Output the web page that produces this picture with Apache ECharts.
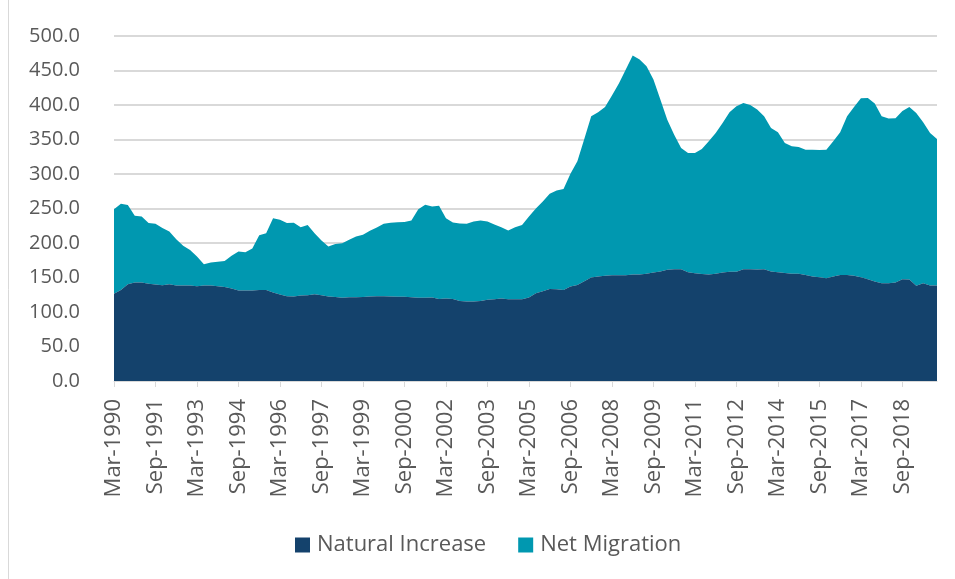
<!DOCTYPE html>
<html>
<head>
<meta charset="utf-8">
<script src="https://cdn.jsdelivr.net/npm/echarts@6/dist/echarts.min.js"></script>
<style>
html,body{margin:0;padding:0;background:#fff;}
#chart{width:955px;height:579px;}
</style>
</head>
<body>
<div id="chart"></div>
<script>
// Quarterly categories Mar-1990 .. Dec-2019
var months = ['Mar', 'Jun', 'Sep', 'Dec'];
var categories = [];
for (var y = 1990; y <= 2019; y++) {
  for (var q = 0; q < 4; q++) categories.push(months[q] + '-' + y);
}

var seriesNames = ['Natural Increase', 'Net Migration'];

var naturalIncrease = [
  126.3, 132.0, 140.3, 142.7, 142.7, 140.8, 139.8, 138.9, 140.3, 138.3,
  138.3, 138.3, 137.4, 138.3, 138.3, 137.4, 136.4, 134.0, 131.0, 131.0,
  131.0, 132.0, 132.0, 128.2, 125.3, 122.9, 122.4, 123.8, 124.3, 125.8,
  124.3, 122.4, 121.9, 120.5, 121.4, 121.4, 121.9, 122.4, 122.9, 122.9,
  122.4, 122.2, 122.0, 121.4, 120.5, 120.5, 121.0, 119.0, 119.5, 119.0,
  116.1, 115.1, 115.1, 116.1, 117.6, 118.6, 119.5, 118.6, 118.6, 118.6,
  121.0, 127.3, 130.2, 133.5, 133.0, 132.0, 136.9, 139.3, 144.7, 150.0,
  151.4, 152.4, 153.4, 153.4, 153.4, 154.3, 154.3, 155.3, 157.2, 158.6,
  161.1, 162.1, 162.1, 157.7, 156.3, 154.9, 154.3, 155.3, 157.2, 158.2,
  158.2, 162.1, 162.1, 161.6, 162.1, 158.6, 157.7, 156.7, 155.3, 155.3,
  153.8, 151.4, 150.5, 149.0, 151.4, 153.8, 153.8, 152.4, 150.5, 147.6,
  144.1, 141.8, 141.8, 142.7, 147.6, 147.1, 137.9, 141.8, 138.3, 138.3
];

var netMigration = [
  122.7, 125.0, 114.7, 96.8, 95.8, 88.2, 88.2, 82.7, 76.4, 67.3,
  57.7, 51.7, 43.0, 31.0, 33.4, 35.6, 37.6, 47.4, 56.7, 55.7,
  61.0, 79.4, 82.3, 107.8, 108.3, 106.1, 106.9, 99.2, 101.7, 88.5,
  79.3, 72.6, 76.5, 79.3, 83.2, 88.1, 90.1, 95.3, 99.6, 105.0,
  107.1, 107.8, 108.3, 111.3, 128.5, 134.9, 132.0, 135.0, 116.5, 110.8,
  112.2, 112.8, 116.1, 116.6, 113.6, 108.3, 103.5, 99.6, 104.4, 107.4,
  117.5, 122.7, 130.0, 137.9, 143.2, 146.2, 163.5, 179.0, 206.1, 233.6,
  238.0, 244.8, 260.2, 277.6, 298.0, 317.4, 311.6, 300.9, 279.8, 249.2,
  217.7, 194.9, 175.6, 172.8, 174.2, 181.4, 193.0, 204.2, 216.8, 231.2,
  240.0, 240.9, 238.0, 231.7, 221.5, 208.1, 202.7, 188.3, 184.8, 183.9,
  181.5, 183.9, 184.3, 186.3, 195.9, 206.6, 229.8, 244.8, 259.2, 262.7,
  257.9, 241.8, 238.5, 238.1, 243.8, 250.1, 250.6, 233.1, 221.2, 212.5
];

var chart = echarts.init(document.getElementById('chart'), null, {renderer: 'canvas'});
var fontFam = '"Open Sans", "Noto Sans", sans-serif';
chart.setOption({
  animation: false,
  backgroundColor: '#ffffff',
  color: ['#14426C', '#0098B0'],
  grid: {left: 114, right: 18, top: 36, bottom: 198, containLabel: false},
  legend: {
    data: seriesNames,
    bottom: 18,
    left: 290,
    itemWidth: 15,
    itemHeight: 15,
    itemGap: 32,
    icon: 'rect',
    textStyle: {color: '#595959', fontSize: 22, fontFamily: fontFam, padding: [0, 0, 0, 2]}
  },
  xAxis: {
    type: 'category',
    data: categories,
    boundaryGap: false,
    axisLine: {lineStyle: {color: '#d9d9d9', width: 1}},
    axisTick: {show: true, interval: 5, length: 6, lineStyle: {color: '#d9d9d9'}},
    axisLabel: {
      interval: 5,
      rotate: 90,
      color: '#595959',
      fontSize: 22,
      fontFamily: fontFam,
      margin: 18
    },
    splitLine: {show: false}
  },
  yAxis: {
    type: 'value',
    min: 0,
    max: 500,
    interval: 50,
    axisLine: {show: false},
    axisTick: {show: false},
    axisLabel: {
      color: '#595959',
      fontSize: 20,
      fontFamily: fontFam,
      margin: 34,
      formatter: function (v) { return v.toFixed(1); }
    },
    splitLine: {lineStyle: {color: '#d9d9d9', width: 2}}
  },
  graphic: [{
    type: 'line',
    shape: {x1: 8.5, y1: 0, x2: 8.5, y2: 579},
    style: {stroke: '#d9d9d9', lineWidth: 1}
  }],
  series: [
    {
      name: seriesNames[0],
      type: 'line',
      stack: 'total',
      data: naturalIncrease,
      symbol: 'none',
      lineStyle: {width: 0},
      areaStyle: {opacity: 1},
      z: 3
    },
    {
      name: seriesNames[1],
      type: 'line',
      stack: 'total',
      data: netMigration,
      symbol: 'none',
      lineStyle: {width: 0},
      areaStyle: {opacity: 1},
      z: 2
    }
  ]
});
</script>
</body>
</html>
